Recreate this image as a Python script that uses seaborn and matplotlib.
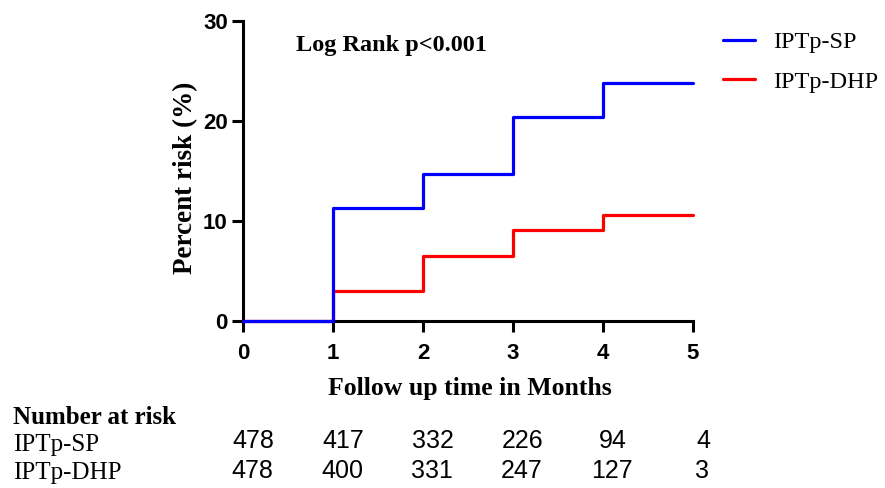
import numpy as np
import pandas as pd
import matplotlib
matplotlib.use("Agg")
import matplotlib.pyplot as plt
import matplotlib.transforms as mtransforms
import seaborn as sns

# ---- data ----
months = [0, 1, 2, 3, 4, 5]
risk_sp = [0.0, 11.3, 14.7, 20.4, 23.8, 23.8]
risk_dhp = [0.0, 3.0, 6.5, 9.1, 10.6, 10.6]
groups = ["IPTp-SP", "IPTp-DHP"]
colors = {"IPTp-SP": "#0000ff", "IPTp-DHP": "#ff0000"}
at_risk_sp = [478, 417, 332, 226, 94, 4]
at_risk_dhp = [478, 400, 331, 247, 127, 3]
xticks = [0, 1, 2, 3, 4, 5]
yticks = [0, 10, 20, 30]

df = pd.DataFrame({
    "month": months * 2,
    "risk": risk_sp + risk_dhp,
    "group": ["IPTp-SP"] * len(months) + ["IPTp-DHP"] * len(months),
})

sns.set_style("ticks")
serif = ["Liberation Serif", "DejaVu Serif"]
sans = ["Liberation Sans", "DejaVu Sans"]
plt.rcParams["font.family"] = sans
plt.rcParams["text.color"] = "black"
plt.rcParams["axes.labelcolor"] = "black"
plt.rcParams["xtick.color"] = "black"
plt.rcParams["ytick.color"] = "black"
plt.rcParams["axes.edgecolor"] = "black"

W, H = 885, 488
fig = plt.figure(figsize=(W / 100, H / 100), dpi=100)
ax = fig.add_axes([243 / W, 1 - 321 / H, 450 / W, 300 / H])

# draw DHP first so the SP segment 0-1 lies on top
for g in ["IPTp-DHP", "IPTp-SP"]:
    sub = df[df["group"] == g]
    sns.lineplot(data=sub, x="month", y="risk", ax=ax, color=colors[g],
                 drawstyle="steps-post", linewidth=2.3, estimator=None,
                 label=g, legend=False, zorder=3)

ax.set_xlim(0, 5)
ax.set_ylim(0, 30)
ax.set_xticks(xticks)
ax.set_yticks(yticks)
ax.tick_params(axis="both", direction="out", length=8, width=2.2,
               labelsize=16, colors="black")
ax.tick_params(axis="x", pad=8)
ax.tick_params(axis="y", pad=3)
for lbl in ax.get_xticklabels() + ax.get_yticklabels():
    lbl.set_fontweight("bold")
    lbl.set_family(sans)
sns.despine(ax=ax)
for s in ["left", "bottom"]:
    ax.spines[s].set_linewidth(2.2)
    ax.spines[s].set_color("black")
    ax.spines[s].set_clip_on(False)
for line in ax.get_lines():
    line.set_clip_on(False)

ax.set_xlabel("Follow up time in Months", fontsize=18.5, fontweight="bold",
              family=serif, color="black")
ax.xaxis.set_label_coords((470 - 243) / 450, (321 - 377) / 300)
ax.set_ylabel("Percent risk (%)", fontsize=19.5, fontweight="bold",
              family=serif, color="black")
ax.yaxis.set_label_coords((198 - 243) / 450, (321 - 178) / 300)

fig.text(296 / W, 1 - 51 / H, "Log Rank p<0.001", fontsize=17.5,
         fontweight="bold", family=serif, va="baseline", ha="left")

# legend (SP first)
handles, labels = ax.get_legend_handles_labels()
order = [labels.index("IPTp-SP"), labels.index("IPTp-DHP")]
leg = fig.legend([handles[i] for i in order], [labels[i] for i in order],
                 loc="upper left", bbox_to_anchor=(723 / W, 1 - 31 / H),
                 frameon=False, prop={"family": serif, "size": 17.5},
                 handlelength=1.32, handletextpad=0.74, labelspacing=0.72,
                 borderpad=0, borderaxespad=0)
for t in leg.get_texts():
    t.set_color("black")

# number at risk table
fig.text(13 / W, 1 - 418 / H, "Number at risk", fontsize=18,
         fontweight="bold", family=serif, va="center", ha="left")
fig.text(13 / W, 1 - 445 / H, "IPTp-SP", fontsize=18, family=serif,
         va="center", ha="left")
fig.text(13 / W, 1 - 473 / H, "IPTp-DHP", fontsize=18, family=serif,
         va="center", ha="left")
trans = mtransforms.blended_transform_factory(ax.transData, fig.transFigure)
for m, n in zip(months, at_risk_sp):
    ax.text(m + 0.11, 1 - 441 / H, str(n), transform=trans, fontsize=18,
            family=sans, ha="center", va="center", clip_on=False)
for m, n in zip(months, at_risk_dhp):
    ax.text(m + 0.10, 1 - 471 / H, str(n), transform=trans, fontsize=18,
            family=sans, ha="center", va="center", clip_on=False)

fig.savefig("out.png", dpi=100)
